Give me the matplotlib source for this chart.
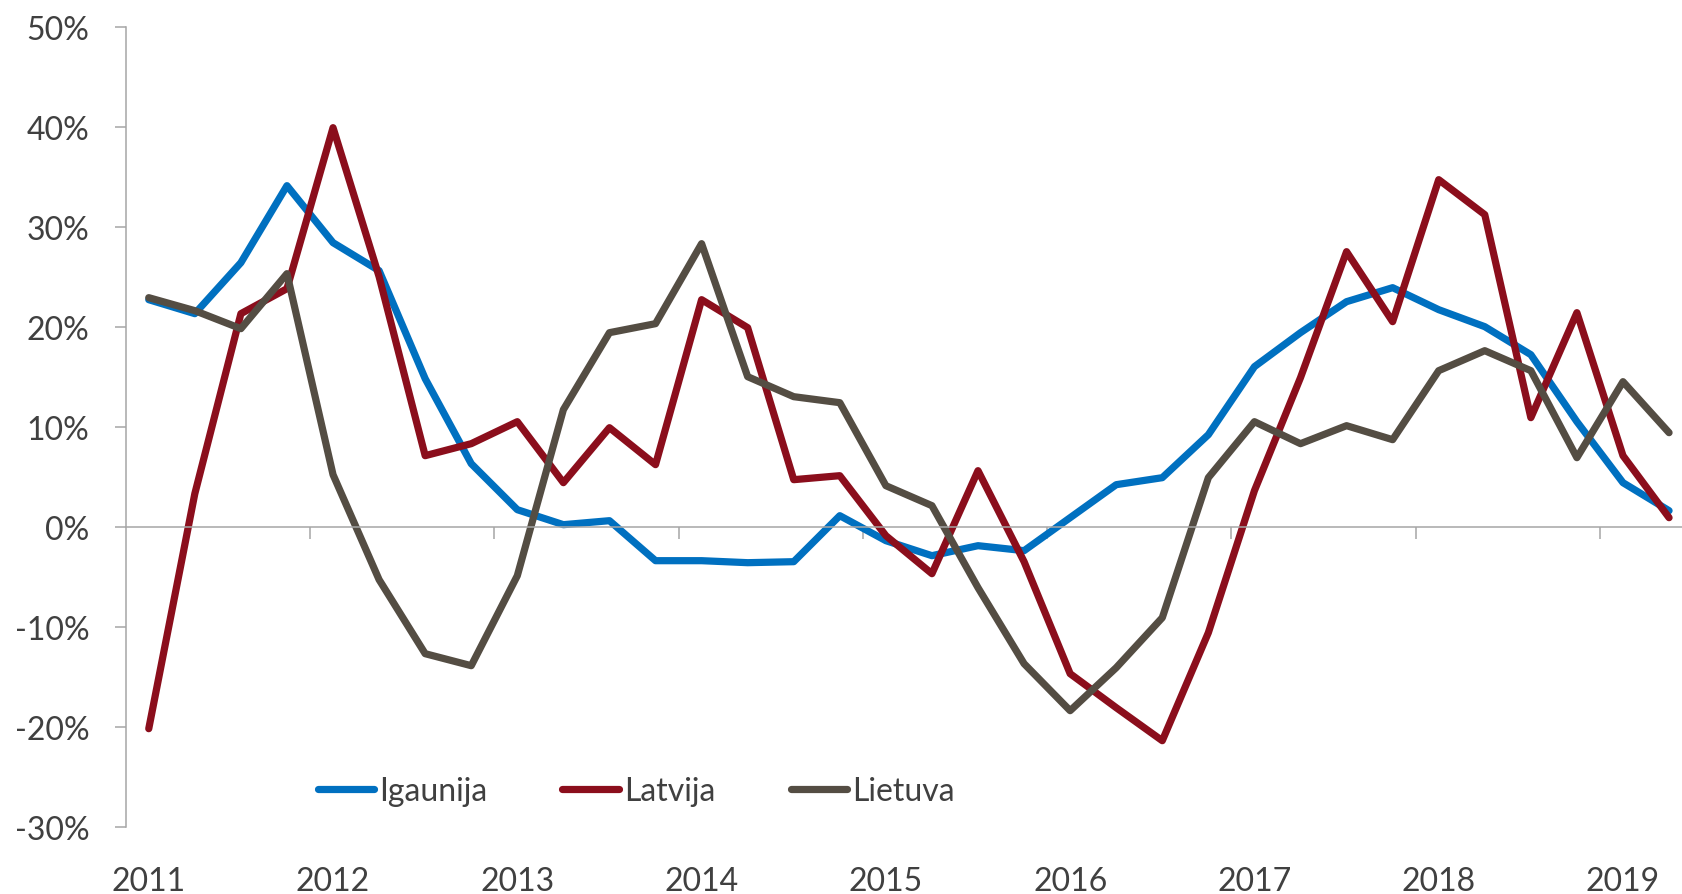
# Baltic states quarterly growth, 2011-2019

# Import libraries
import numpy as np
import matplotlib
matplotlib.use('Agg')
import matplotlib.pyplot as plt
from matplotlib.ticker import FuncFormatter

# Data (quarterly, 2011Q1 - 2019Q2), in %
years = ['2011', '2012', '2013', '2014', '2015', '2016', '2017', '2018', '2019']
igaunija = [22.7, 21.3, 26.4, 34.1, 28.4, 25.6, 14.8, 6.3, 1.7, 0.2, 0.6, -3.4,
            -3.4, -3.6, -3.5, 1.1, -1.4, -2.9, -1.9, -2.4, 0.9, 4.2, 4.9, 9.2,
            16.0, 19.4, 22.5, 23.9, 21.7, 20.0, 17.2, 10.5, 4.4, 1.6]
latvija = [-20.2, 3.3, 21.3, 23.8, 39.9, 25.0, 7.1, 8.3, 10.5, 4.4, 9.9, 6.2,
           22.7, 19.9, 4.7, 5.1, -0.9, -4.7, 5.6, -3.5, -14.7, -18.1, -21.4, -10.6,
           3.6, 14.9, 27.5, 20.5, 34.7, 31.2, 10.9, 21.4, 7.1, 0.9]
lietuva = [22.9, 21.6, 19.8, 25.3, 5.2, -5.3, -12.7, -13.9, -4.9, 11.7, 19.4, 20.3,
           28.3, 15.0, 13.0, 12.4, 4.1, 2.1, -6.1, -13.7, -18.4, -14.1, -9.1, 4.9,
           10.5, 8.3, 10.1, 8.7, 15.6, 17.6, 15.6, 6.9, 14.5, 9.4]

text_col = '#404040'
axis_col = '#A6A6A6'
plt.rcParams['font.family'] = ['Lato', 'DejaVu Sans']
plt.rcParams['font.size'] = 23

fig = plt.figure(figsize=(16.83, 8.95), dpi=100)
ax = fig.add_axes([0.0747, 0.0752, 0.9307, 0.8939])

x = np.arange(len(igaunija))
line_kw = dict(linewidth=5.2, solid_joinstyle='round', solid_capstyle='round')
ax.plot(x, igaunija, color='#0070C0', label='Igaunija', **line_kw)
ax.plot(x, latvija, color='#8B0E1C', label='Latvija', **line_kw)
ax.plot(x, lietuva, color='#544D43', label='Lietuva', **line_kw)

ax.set_xlim(-0.5, len(x) - 0.5)
ax.set_ylim(-30, 50)

# y axis
ax.set_yticks(np.arange(-30, 51, 10))
ax.yaxis.set_major_formatter(FuncFormatter(lambda v, p: '%d%%' % v))
ax.tick_params(axis='y', direction='out', length=8, width=1.1, color=axis_col,
               pad=18, labelcolor=text_col)

# x axis line crosses at 0, ticks between years
ax.spines['bottom'].set_position(('data', 0))
ax.set_xticks(np.arange(3.5, len(x) - 1, 4))
ax.tick_params(axis='x', direction='out', length=8.5, width=1.1, color=axis_col,
               labelbottom=False)

for s in ['top', 'right']:
    ax.spines[s].set_visible(False)
for s in ['left', 'bottom']:
    ax.spines[s].set_color(axis_col)
    ax.spines[s].set_linewidth(1.1)

# year labels at the bottom
sec = ax.secondary_xaxis('bottom')
sec.set_xticks(np.arange(0, len(x), 4), labels=years)
sec.spines['bottom'].set_visible(False)
sec.tick_params(length=0, pad=28, labelcolor=text_col)

# legend
fig.legend(loc='center', bbox_to_anchor=(0.378, 0.115), ncol=3, frameon=False,
           handlelength=1.78, handletextpad=0.15, columnspacing=2.35,
           labelcolor=text_col)

plt.savefig('out.png', dpi=100)
